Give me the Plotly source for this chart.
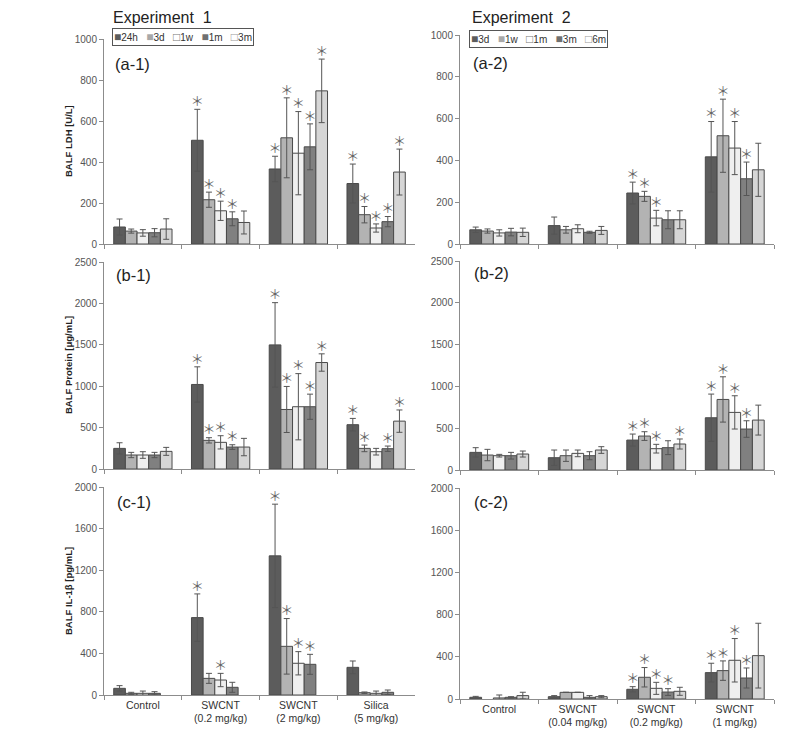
import plotly.graph_objects as go

# page is 791x739; browser body has an 8px margin, so the figure is drawn at (8, 8)
OFF = 8
W, H = 791 - 2 * OFF, 739 - 2 * OFF
FONT = "Liberation Sans, Arial, sans-serif"

# ---------------- categories & series ----------------
cats1 = ["Control", "SWCNT<br>(0.2 mg/kg)", "SWCNT<br>(2 mg/kg)", "Silica<br>(5 mg/kg)"]
cats2 = ["Control", "SWCNT<br>(0.04 mg/kg)", "SWCNT<br>(0.2 mg/kg)", "SWCNT<br>(1 mg/kg)"]
times1 = ["24h", "3d", "1w", "1m", "3m"]
times2 = ["3d", "1w", "1m", "3m", "6m"]
colors = ["#5c5c5c", "#b3b3b3", "#efefef", "#808080", "#d6d6d6"]

# ---------------- Experiment 1 ----------------
# (a-1) BALF LDH [U/L]  rows = 24h, 3d, 1w, 1m, 3m
ldh1_mean = [[83, 506, 366, 295], [63, 216, 518, 143], [54, 162, 443, 78],
             [55, 123, 474, 109], [73, 105, 747, 351]]
ldh1_err = [[39, 151, 62, 95], [10, 37, 195, 40], [16, 47, 203, 20],
            [20, 34, 112, 25], [50, 56, 155, 112]]
ldh1_sig = [[0, 1, 1, 1], [0, 1, 1, 1], [0, 1, 1, 1], [0, 1, 1, 1], [0, 0, 1, 1]]

# (b-1) BALF Protein [ug/mL]
prot1_mean = [[249, 1021, 1499, 535], [169, 346, 719, 249], [169, 322, 752, 209],
              [169, 265, 752, 245], [213, 265, 1286, 578]]
prot1_err = [[68, 213, 510, 76], [32, 32, 278, 40], [40, 80, 400, 40],
             [32, 28, 152, 32], [48, 105, 105, 135]]
prot1_sig = [[0, 1, 1, 1], [0, 1, 1, 1], [0, 1, 1, 0], [0, 1, 1, 1], [0, 0, 1, 1]]

# (c-1) BALF IL-1beta [pg/mL]  (no 3m data)
il1_mean = [[64, 744, 1338, 266], [16, 160, 468, 22], [16, 144, 305, 16],
            [16, 74, 295, 26], [None, None, None, None]]
il1_err = [[26, 228, 497, 61], [10, 48, 267, 7], [22, 64, 112, 22],
           [16, 48, 96, 22], [None, None, None, None]]
il1_sig = [[0, 1, 1, 0], [0, 0, 1, 0], [0, 1, 1, 0], [0, 0, 1, 0], [0, 0, 0, 0]]

# ---------------- Experiment 2 ----------------
# (a-2)  rows = 3d, 1w, 1m, 3m, 6m
ldh2_mean = [[68, 88, 244, 417], [62, 68, 228, 518], [53, 73, 124, 459],
             [57, 56, 116, 312], [56, 65, 116, 355]]
ldh2_err = [[13, 41, 52, 169], [10, 16, 24, 175], [15, 19, 37, 127],
            [18, 5, 43, 80], [20, 19, 43, 127]]
ldh2_sig = [[0, 0, 1, 1], [0, 0, 1, 1], [0, 0, 1, 1], [0, 0, 0, 1], [0, 0, 0, 0]]

# (b-2)
prot2_mean = [[211, 147, 358, 625], [179, 171, 406, 844], [171, 199, 255, 689],
              [171, 171, 267, 490], [191, 239, 311, 597]]
prot2_err = [[56, 92, 72, 283], [68, 68, 52, 271], [16, 40, 52, 199],
             [40, 48, 83, 99], [36, 40, 60, 179]]
prot2_sig = [[0, 0, 1, 1], [0, 0, 1, 1], [0, 0, 1, 1], [0, 0, 0, 1], [0, 0, 1, 0]]

# (c-2)
il2_mean = [[16, 22, 92, 250], [None, 63, 206, 269], [10, 63, 101, 367],
            [16, 16, 66, 199], [32, 22, 73, 411]]
il2_err = [[9, 10, 25, 89], [None, 0, 92, 92], [28, 0, 57, 206],
           [6, 16, 32, 95], [32, 10, 38, 307]]
il2_sig = [[0, 0, 1, 1], [0, 0, 1, 1], [0, 0, 1, 1], [0, 0, 1, 1], [0, 0, 0, 0]]

y_ranges = {"a": [0, 1000], "b": [0, 2500], "c": [0, 2000]}
y_dticks = {"a": 200, "b": 500, "c": 400}
y_titles = {"a": "BALF LDH [U/L]", "b": "BALF Protein [μg/mL]", "c": "BALF IL-1β [pg/mL]"}

fig = go.Figure()


def px_x(p):
    return (p - OFF) / W


def px_y(p):
    return 1 - (p - OFF) / H


def add_panel(idx, cats, times, means, errs, sigs):
    xa = "x" if idx == 1 else f"x{idx}"
    ya = "y" if idx == 1 else f"y{idx}"
    for i, t in enumerate(times):
        fig.add_trace(go.Bar(
            x=cats, y=means[i], name=t, xaxis=xa, yaxis=ya,
            offsetgroup=str(i), alignmentgroup=xa,
            marker=dict(color=colors[i], line=dict(color="#4a4a4a", width=1)),
            error_y=dict(type="data", array=errs[i], color="#555555",
                         thickness=1, width=3, visible=True),
            showlegend=False, hoverinfo="skip"))
    for i, t in enumerate(times):
        ys, txt = [], []
        for m, e, s in zip(means[i], errs[i], sigs[i]):
            ys.append((m or 0) + (e or 0))
            txt.append("＊" if s else "")
        fig.add_trace(go.Scatter(
            x=cats, y=ys, text=txt, mode="text", textposition="top center",
            textfont=dict(size=13, color="#666666", family="Noto Sans CJK JP"),
            xaxis=xa, yaxis=ya, offsetgroup=str(i), alignmentgroup=xa,
            showlegend=False, hoverinfo="skip"))


add_panel(1, cats1, times1, ldh1_mean, ldh1_err, ldh1_sig)
add_panel(2, cats2, times2, ldh2_mean, ldh2_err, ldh2_sig)
add_panel(3, cats1, times1, prot1_mean, prot1_err, prot1_sig)
add_panel(4, cats2, times2, prot2_mean, prot2_err, prot2_sig)
add_panel(5, cats1, times1, il1_mean, il1_err, il1_sig)
add_panel(6, cats2, times2, il2_mean, il2_err, il2_sig)

# page-pixel geometry of panels
xdom = {1: (104, 415), 2: (460, 774)}
ydom = {("a", 1): (39, 244), ("a", 2): (35, 244),
        ("b", 1): (262, 469), ("b", 2): (261, 470),
        ("c", 1): (487, 695), ("c", 2): (488, 699)}

layout = dict(
    template="none",
    width=W, height=H, autosize=False,
    margin=dict(l=0, r=0, t=0, b=0, pad=0, autoexpand=False),
    paper_bgcolor="white", plot_bgcolor="white",
    barmode="group", bargap=0.25, bargroupgap=0,
    scattermode="group",
    font=dict(family=FONT, color="#333333"),
    showlegend=False,
)

panels = [("a", 1), ("a", 2), ("b", 1), ("b", 2), ("c", 1), ("c", 2)]
for k, (row, col) in enumerate(panels, start=1):
    xk = "xaxis" if k == 1 else f"xaxis{k}"
    yk = "yaxis" if k == 1 else f"yaxis{k}"
    x0, x1 = xdom[col]
    ytop, ybot = ydom[(row, col)]
    layout[xk] = dict(
        type="category", domain=[px_x(x0), px_x(x1)],
        anchor="y" if k == 1 else f"y{k}", automargin=False,
        showline=True, linecolor="#8c8c8c", linewidth=1,
        ticks="outside", tickson="boundaries", ticklen=4, tickcolor="#8c8c8c",
        showgrid=False, zeroline=False,
        showticklabels=(row == "c"),
        tickfont=dict(size=10.5, color="#333333", family=FONT),
    )
    layout[yk] = dict(
        domain=[px_y(ybot), px_y(ytop)],
        anchor="x" if k == 1 else f"x{k}", automargin=False,
        range=y_ranges[row], dtick=y_dticks[row], tick0=0,
        showline=True, linecolor="#8c8c8c", linewidth=1,
        ticks="outside", ticklen=4, tickcolor="#8c8c8c",
        showgrid=False, zeroline=False,
        tickfont=dict(size=10, color="#555555", family=FONT),
    )

fig.update_layout(**layout)

ann = []
# experiment titles (anchored to the top edge so they are not clipped)
for t, x in [("Experiment  1", 112), ("Experiment  2", 471)]:
    ann.append(dict(text=t, x=px_x(x), y=1, xref="paper", yref="paper",
                    xanchor="left", yanchor="top", showarrow=False, borderpad=0,
                    font=dict(size=16, color="#222222", family=FONT)))

# panel labels
labels = [("(a-1)", 113, 64), ("(a-2)", 471, 63), ("(b-1)", 114, 275),
          ("(b-2)", 472, 273), ("(c-1)", 115, 502), ("(c-2)", 472, 502)]
for t, x, y in labels:
    ann.append(dict(text=t, x=px_x(x), y=px_y(y), xref="paper", yref="paper",
                    xanchor="left", yanchor="middle", showarrow=False,
                    font=dict(size=16.5, color="#222222", family=FONT)))

# y titles
for row, yc in [("a", 141), ("b", 365), ("c", 591)]:
    ann.append(dict(text="<b>" + y_titles[row] + "</b>", x=px_x(68), y=px_y(yc),
                    xref="paper", yref="paper", textangle=-90,
                    xanchor="center", yanchor="middle", showarrow=False,
                    font=dict(size=9.5, color="#222222", family=FONT)))


# legends (text with coloured squares)
def legend_text(times):
    parts = []
    syms = ["■", "■", "□", "■", "□"]
    symcol = ["#5c5c5c", "#a8a8a8", "#777777", "#707070", "#9a9a9a"]
    for i, t in enumerate(times):
        parts.append(f'<span style="color:{symcol[i]};font-size:12px">{syms[i]}</span>{t}')
    return "\u00a0\u00a0\u00a0".join(parts)


ann.append(dict(text=legend_text(times1), x=px_x(112), y=px_y(37), xref="paper", yref="paper",
                xanchor="left", yanchor="middle", showarrow=False,
                bordercolor="#555555", borderwidth=1, borderpad=1, bgcolor="white",
                font=dict(size=10, color="#333333", family=FONT)))
ann.append(dict(text=legend_text(times2), x=px_x(469), y=px_y(39), xref="paper", yref="paper",
                xanchor="left", yanchor="middle", showarrow=False,
                bordercolor="#555555", borderwidth=1, borderpad=1, bgcolor="white",
                font=dict(size=10, color="#333333", family=FONT)))

fig.update_layout(annotations=ann)
fig.write_html("out.html")
